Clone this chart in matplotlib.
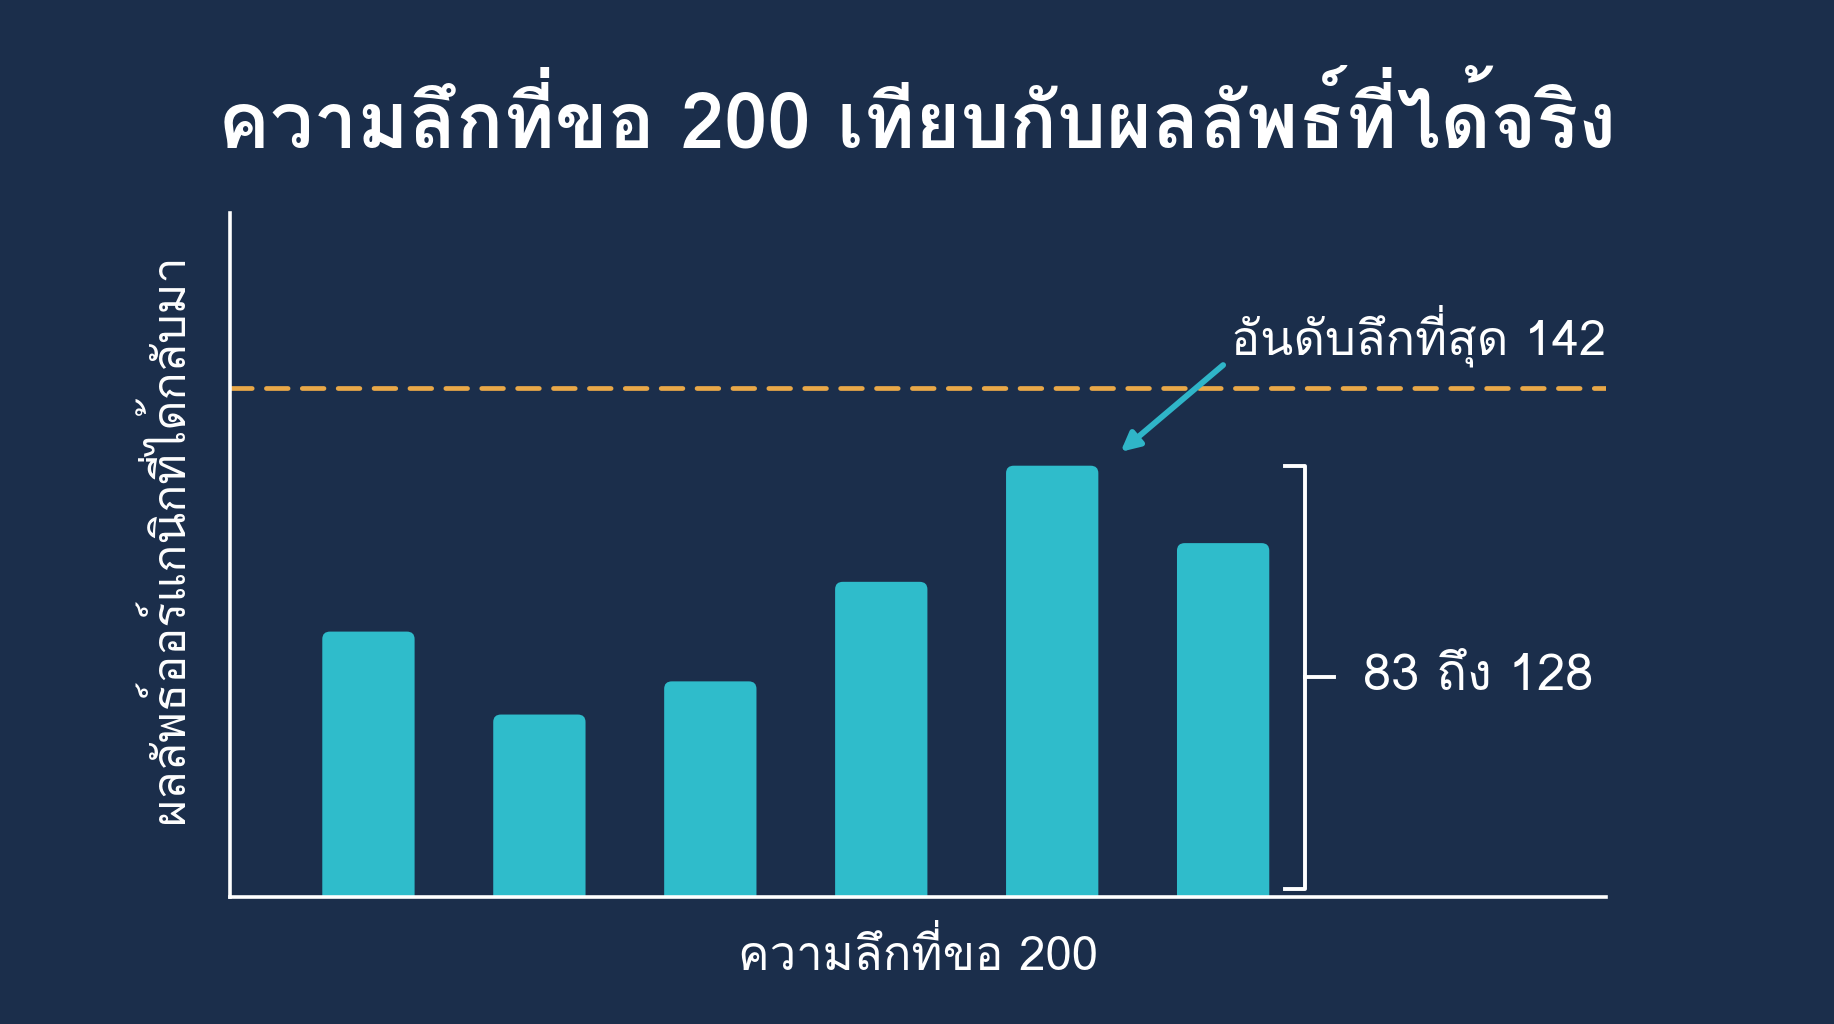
import matplotlib
matplotlib.use("Agg")
import matplotlib.pyplot as plt
from matplotlib.patches import FancyBboxPatch

plt.rcParams['font.family'] = ['Loma', 'DejaVu Sans']

# ข้อมูล
cats = ['1', '2', '3', '4', '5', '6']
values = [98, 83, 89, 107, 128, 114]
deepest = 142
y_base = 50

bg = '#1b2e4b'
bar_col = '#2fbccb'
line_col = '#e9a848'
arrow_col = '#2fb5c8'

fig = plt.figure(figsize=(18.34, 10.24), dpi=100, facecolor=bg)
ax = fig.add_axes([0.1254, 0.124, 0.7503, 0.668])
ax.set_facecolor(bg)

ax.set_xlim(-0.81, 7.24)
ax.set_ylim(y_base, 173.7)

# แท่งมุมมน
x = list(range(len(cats)))
bars = ax.bar(x, [v - y_base + 3 for v in values], bottom=y_base - 3, width=0.54,
              color=bar_col, zorder=2)
for b in bars:
    b.set_visible(False)
    p = FancyBboxPatch((b.get_x(), b.get_y()), b.get_width(), b.get_height(),
                       boxstyle='round,pad=0,rounding_size=0.045', mutation_aspect=30,
                       fc=bar_col, ec='none', zorder=2)
    ax.add_patch(p)

ax.axhline(deepest, color=line_col, lw=3.4, dashes=(4.6, 3.0), dash_capstyle='round', zorder=3)

for s in ['top', 'right']:
    ax.spines[s].set_visible(False)
for s in ['left', 'bottom']:
    ax.spines[s].set_color('white')
    ax.spines[s].set_linewidth(2.6)
    ax.spines[s].set_zorder(5)
ax.set_xticks([])
ax.set_yticks([])

ax.set_xlabel('ความลึกที่ขอ 200', color='white', fontsize=34, labelpad=24)
ax.set_ylabel('ผลลัพธ์ออร์แกนิกที่ได้กลับมา', color='white', fontsize=33.5)
ax.yaxis.set_label_coords(-0.027, 0.525)

fig.text(0.5, 0.882, 'ความลึกที่ขอ 200 เทียบกับผลลัพธ์ที่ได้จริง', color='white',
         fontsize=56, fontweight='bold', ha='center', va='center')

# ลูกศรชี้แท่งที่ลึกที่สุด
i_max = values.index(max(values))
ax.annotate('', xy=(i_max + 0.4, max(values) + 2.5), xytext=(i_max + 1.0, 146.2),
            arrowprops=dict(arrowstyle='-|>,head_length=1.1,head_width=0.55', color=arrow_col,
                            lw=4.2, shrinkA=0, shrinkB=0),
            zorder=4)
ax.text(7.24, 151.5, f'อันดับลึกที่สุด {deepest}', color='white', fontsize=35,
        ha='right', va='center')

# วงเล็บช่วงค่า
bx = 5.48
lo, hi = y_base + 1.5, max(values)
ax.plot([bx - 0.12, bx, bx, bx - 0.12], [hi, hi, lo, lo], color='white', lw=2.8,
        solid_joinstyle='round', clip_on=False)
mid = (lo + hi) / 2
ax.plot([bx, bx + 0.17], [mid, mid], color='white', lw=2.8, clip_on=False)
ax.text(bx + 0.34, mid, f'{min(values)} ถึง {max(values)}', color='white', fontsize=36.5,
        ha='left', va='center')

fig.savefig('out.png', facecolor=bg)
